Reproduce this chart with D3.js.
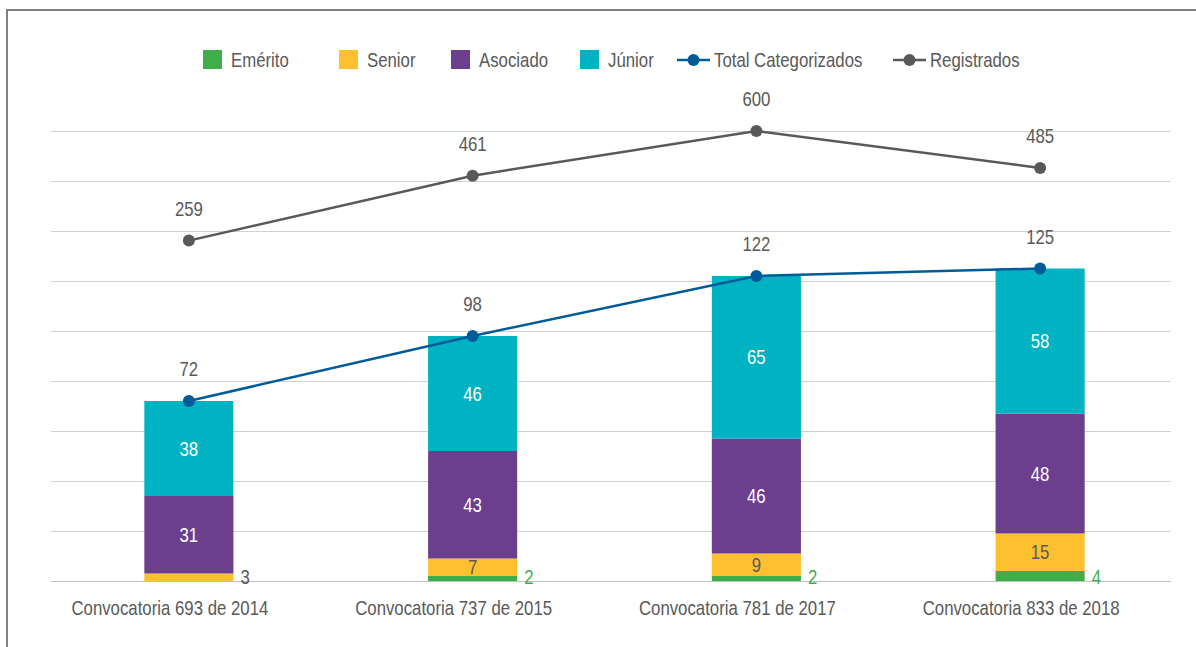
<!DOCTYPE html>
<html>
<head>
<meta charset="utf-8">
<script src="https://cdn.jsdelivr.net/npm/d3@7"></script>
<style>
  body { margin: 0; background: #fff; }
  svg { display: block; font-family: "Liberation Sans", Arial, sans-serif; }
</style>
</head>
<body>
<svg id="chart" width="1196" height="647"></svg>
<script>
// datos
var categorias = ["Convocatoria 693 de 2014", "Convocatoria 737 de 2015", "Convocatoria 781 de 2017", "Convocatoria 833 de 2018"];
var emerito = [0, 2, 2, 4];
var senior = [3, 7, 9, 15];
var asociado = [31, 43, 46, 48];
var junior = [38, 46, 65, 58];
var total_cat = [72, 98, 122, 125];
var registrados = [259, 461, 600, 485];

var series_nombres = ["Emérito", "Senior", "Asociado", "Júnior"];
var colores = ["#3fae49", "#fec02f", "#6b3e8e", "#00b3c3"];
var color_total = "#005b98";
var color_reg = "#595959";
var gris_texto = "#595959";

var svg = d3.select("#chart");

// texto angosto (no hay Arial Narrow instalada)
function texto(g, x, y, s, anchor) {
    return g.append("text")
        .attr("transform", "translate(" + x + "," + y + ") scale(0.84,1)")
        .attr("text-anchor", anchor || "start")
        .attr("font-size", 20)
        .text(s);
}

// marco
svg.append("line").attr("x1", 6).attr("y1", 10).attr("x2", 1196).attr("y2", 10)
    .attr("stroke", "#808080").attr("stroke-width", 2);
svg.append("line").attr("x1", 7).attr("y1", 10).attr("x2", 7).attr("y2", 647)
    .attr("stroke", "#808080").attr("stroke-width", 2);

var x = d3.scaleBand().domain(categorias).range([47, 1182]).paddingInner(0.686).paddingOuter(0.343);
var y = d3.scaleLinear().domain([0, 180]).range([581, 131]);
var y2 = d3.scaleLinear().domain([-800, 600]).range([581, 131]); // eje secundario (registrados)

// lineas de la grilla
svg.append("g").selectAll("line")
    .data(y.ticks(9))
    .join("line")
    .attr("x1", 51).attr("x2", 1171)
    .attr("y1", d => Math.round(y(d)) + 0.5).attr("y2", d => Math.round(y(d)) + 0.5)
    .attr("stroke", d => d === 0 ? "#bfbfbf" : "#d0d0d0")
    .attr("stroke-width", 1);

// barras apiladas
var filas = categorias.map((c, i) => ({ cat: c, "Emérito": emerito[i], "Senior": senior[i], "Asociado": asociado[i], "Júnior": junior[i] }));
var pila = d3.stack().keys(series_nombres)(filas);

var capas = svg.append("g").selectAll("g")
    .data(pila)
    .join("g")
    .attr("fill", (d, i) => colores[i]);

capas.selectAll("rect")
    .data(d => d)
    .join("rect")
    .attr("x", d => x(d.data.cat))
    .attr("width", x.bandwidth())
    .attr("y", d => y(d[1]))
    .attr("height", d => y(d[0]) - y(d[1]));

// etiquetas de las barras
pila.forEach((capa, k) => {
    capa.forEach(d => {
        var v = d[1] - d[0];
        if (v === 0) return;
        var cx = x(d.data.cat) + x.bandwidth() / 2;
        if (k === 0 || v < 5) {
            // afuera, a la derecha
            texto(svg, x(d.data.cat) + x.bandwidth() + 7, 584, v)
                .attr("fill", k === 0 ? colores[0] : gris_texto);
        } else {
            texto(svg, cx, (y(d[0]) + y(d[1])) / 2 + 7, v, "middle")
                .attr("fill", k === 1 ? gris_texto : "#fff");
        }
    });
});

// lineas
function dibujar_linea(vals, esc, color) {
    var pts = vals.map((v, i) => [x(categorias[i]) + x.bandwidth() / 2, esc(v)]);
    svg.append("path")
        .attr("d", d3.line()(pts))
        .attr("fill", "none")
        .attr("stroke", color)
        .attr("stroke-width", 2.5);
    svg.append("g").selectAll("circle")
        .data(pts)
        .join("circle")
        .attr("cx", d => d[0]).attr("cy", d => d[1])
        .attr("r", 6)
        .attr("fill", color);
    var g = svg.append("g").attr("fill", gris_texto);
    vals.forEach((v, i) => texto(g, pts[i][0], pts[i][1] - 25, v, "middle"));
}
dibujar_linea(registrados, y2, color_reg);
dibujar_linea(total_cat, y, color_total);

// etiquetas eje x (un poco corridas a la izquierda, como en el original)
var ejex = svg.append("g").attr("fill", gris_texto);
categorias.forEach(c => texto(ejex, x(c) + x.bandwidth() / 2 - 19, 615, c, "middle"));

// leyenda
var ley = svg.append("g").attr("fill", gris_texto);
var ley_x = [203, 339, 451, 580];
series_nombres.forEach((n, i) => {
    ley.append("rect").attr("x", ley_x[i]).attr("y", 50).attr("width", 19).attr("height", 19).attr("fill", colores[i]);
    texto(ley, ley_x[i] + 28, 67, n);
});
[["Total Categorizados", color_total, 677], ["Registrados", color_reg, 893]].forEach(l => {
    ley.append("line").attr("x1", l[2]).attr("x2", l[2] + 33).attr("y1", 60).attr("y2", 60)
        .attr("stroke", l[1]).attr("stroke-width", 2.5);
    ley.append("circle").attr("cx", l[2] + 16.5).attr("cy", 60).attr("r", 6).attr("fill", l[1]);
    texto(ley, l[2] + 37, 67, l[0]);
});
</script>
</body>
</html>
